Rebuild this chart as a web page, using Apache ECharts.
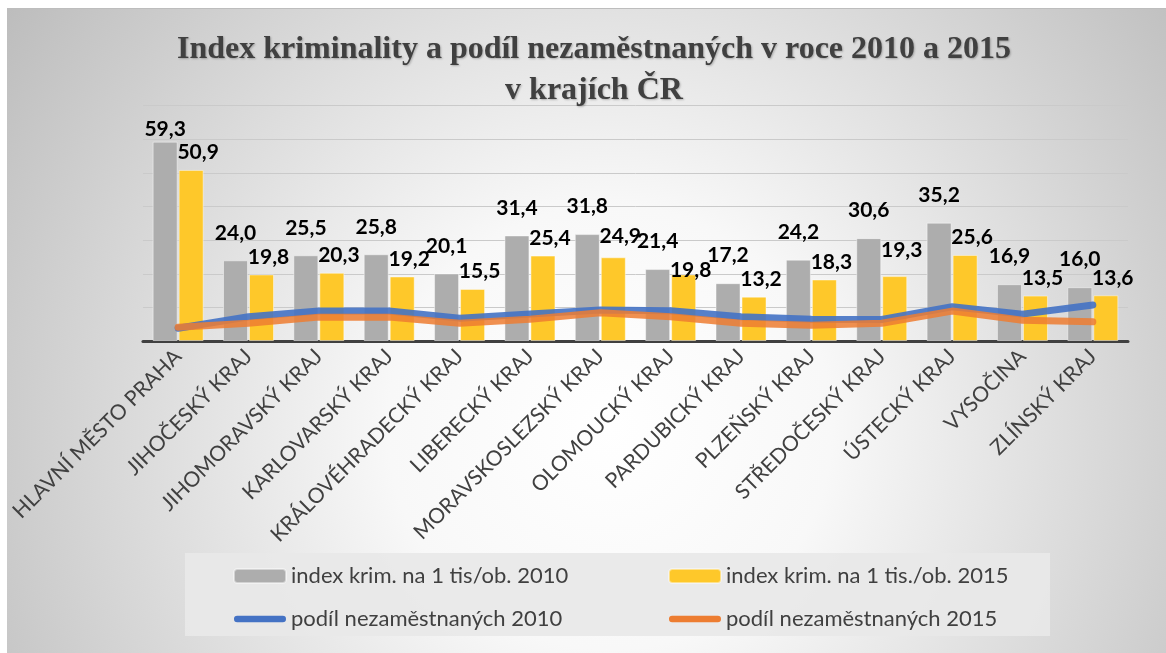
<!DOCTYPE html>
<html>
<head>
<meta charset="utf-8">
<title>Index kriminality</title>
<script src="https://cdn.jsdelivr.net/npm/echarts@6.0.0/dist/echarts.min.js"></script>
<style>
  html, body { margin: 0; padding: 0; background: #ffffff; }
  #chart {
    position: absolute; left: 7px; top: 8px;
    width: 1159px; height: 645px;
    box-sizing: border-box; border-top: 1px solid #bdbdbd;
  }
</style>
</head>
<body>
<div id="chart"></div>
<script>
// ==============================================================
// data
// ==============================================================
var kraje = ['HLAVNÍ MĚSTO PRAHA', 'JIHOČESKÝ KRAJ', 'JIHOMORAVSKÝ KRAJ', 'KARLOVARSKÝ KRAJ',
  'KRÁLOVÉHRADECKÝ KRAJ', 'LIBERECKÝ KRAJ', 'MORAVSKOSLEZSKÝ KRAJ', 'OLOMOUCKÝ KRAJ',
  'PARDUBICKÝ KRAJ', 'PLZEŇSKÝ KRAJ', 'STŘEDOČESKÝ KRAJ', 'ÚSTECKÝ KRAJ', 'VYSOČINA', 'ZLÍNSKÝ KRAJ'];

var krim2010 = [59.3, 24.0, 25.5, 25.8, 20.1, 31.4, 31.8, 21.4, 17.2, 24.2, 30.6, 35.2, 16.9, 16.0];
var krim2015 = [50.9, 19.8, 20.3, 19.2, 15.5, 25.4, 24.9, 19.8, 13.2, 18.3, 19.3, 25.6, 13.5, 13.6];

// podil nezamestnanych (%)
var nezam2010 = [3.8, 7.2, 8.9, 8.9, 6.8, 8.0, 9.2, 9.0, 7.2, 6.5, 6.4, 10.2, 8.0, 10.7];
var nezam2015 = [4.1, 5.3, 7.1, 7.1, 5.3, 6.5, 8.4, 7.2, 5.3, 4.7, 5.3, 8.9, 6.2, 5.7];

var names = ['index krim. na 1 tis/ob. 2010', 'index krim. na 1 tis./ob. 2015',
  'podíl nezaměstnaných 2010', 'podíl nezaměstnaných 2015'];

// a few labels sit differently in the original
var labelDist2010 = { 0: 2 };
var labelDist2015 = { 6: 11, 7: -6, 10: 15 };

var capsule = 'path://M3.5,0 L53.5,0 A3.5,3.5 0 0 1 53.5,7 L3.5,7 A3.5,3.5 0 0 1 3.5,0 Z';

function carka(p) {
  return p.value.toFixed(1).replace('.', ',');
}

function barData(values, dist, def) {
  return values.map(function (v, i) {
    var d = dist[i] !== undefined ? dist[i] : def;
    return { value: v, label: { distance: d } };
  });
}

var myChart = echarts.init(document.getElementById('chart'));

var labelStyle = {
  show: true,
  position: 'top',
  formatter: carka,
  color: '#000000',
  fontFamily: 'Lato',
  fontWeight: 'bold',
  fontSize: 21
};

var legendText = { fontFamily: 'Lato', fontSize: 22, color: '#404040', lineHeight: 20 };

option = {
  backgroundColor: {
    type: 'radial', x: 0.52, y: 0.65, r: 1.15,
    colorStops: [
      { offset: 0, color: '#ffffff' },
      { offset: 0.3, color: '#f8f8f8' },
      { offset: 1, color: '#bcbcbc' }
    ]
  },
  title: {
    text: 'Index kriminality a podíl nezaměstnaných v roce 2010 a 2015\nv krajích ČR',
    left: 582,
    top: 15,
    textAlign: 'center',
    textStyle: {
      fontFamily: 'Liberation Serif',
      fontWeight: 'bold',
      fontSize: 32,
      lineHeight: 41,
      color: '#404040',
      textShadowColor: 'rgba(0,0,0,0.25)',
      textShadowBlur: 2,
      textShadowOffsetX: 1,
      textShadowOffsetY: 1
    }
  },
  graphic: [{
    type: 'rect',
    left: 178, top: 544,
    shape: { width: 865, height: 83 },
    style: { fill: 'rgba(232,232,232,0.92)' },
    silent: true
  }],
  legend: [{
    orient: 'vertical',
    left: 226, top: 556,
    padding: 0,
    itemWidth: 52, itemHeight: 14, itemGap: 21,
    textStyle: legendText,
    data: [{ name: names[0] }, { name: names[2], icon: capsule }]
  }, {
    orient: 'vertical',
    left: 661, top: 556,
    padding: 0,
    itemWidth: 52, itemHeight: 14, itemGap: 21,
    textStyle: legendText,
    data: [{ name: names[1] }, { name: names[3], icon: capsule }]
  }],
  grid: {
    left: 135, right: 38, top: 96.7, bottom: 312,
    containLabel: false
  },
  xAxis: {
    type: 'category',
    data: kraje,
    axisTick: { show: false },
    axisLine: { lineStyle: { color: '#404040', width: 3 } },
    axisLabel: {
      interval: 0,
      rotate: 45,
      margin: 12,
      fontFamily: 'Lato',
      fontSize: 21,
      color: '#404040'
    }
  },
  yAxis: {
    type: 'value',
    min: 0, max: 70, interval: 10,
    axisLabel: { show: false },
    axisLine: { show: false },
    axisTick: { show: false },
    splitLine: { lineStyle: { color: '#cacaca', width: 1 } }
  },
  series: [
    {
      name: names[0],
      type: 'bar',
      barWidth: 25,
      barGap: '4%',
      itemStyle: { color: '#adadad', borderColor: 'rgba(255,255,255,0.45)', borderWidth: 1 },
      label: Object.assign({}, labelStyle),
      data: barData(krim2010, labelDist2010, 17)
    },
    {
      name: names[1],
      type: 'bar',
      barWidth: 25,
      barGap: '4%',
      itemStyle: { color: '#fec82a', borderColor: 'rgba(255,255,255,0.45)', borderWidth: 1 },
      label: Object.assign({}, labelStyle, { offset: [7, 0] }),
      data: barData(krim2015, labelDist2015, 7)
    },
    {
      name: names[2],
      type: 'line',
      symbol: 'none',
      z: 3,
      lineStyle: { color: '#4472c4', width: 7, opacity: 0.9, cap: 'round', join: 'round' },
      itemStyle: { color: '#4472c4' },
      data: nezam2010
    },
    {
      name: names[3],
      type: 'line',
      symbol: 'none',
      z: 4,
      lineStyle: { color: '#ed7d31', width: 7, opacity: 0.85, cap: 'round', join: 'round' },
      itemStyle: { color: '#ed7d31' },
      data: nezam2015
    }
  ]
};

myChart.setOption(option, true);
</script>
</body>
</html>
